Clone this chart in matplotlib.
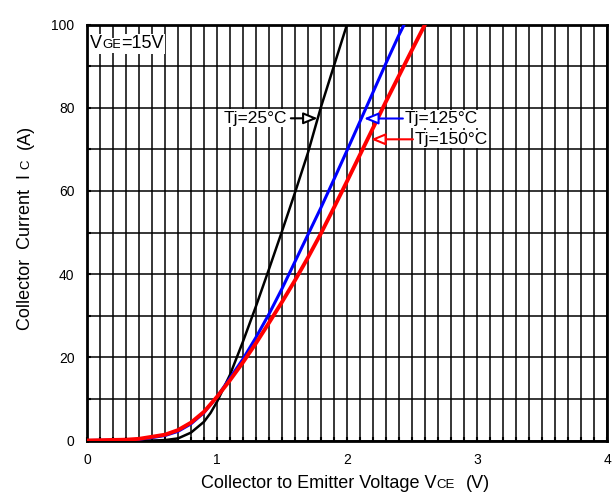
import matplotlib
matplotlib.use("Agg")
import matplotlib.pyplot as plt
from matplotlib.ticker import MultipleLocator
from matplotlib.transforms import IdentityTransform

plt.rcParams['font.family'] = ['Liberation Sans', 'DejaVu Sans']

# output characteristics (Vce in V, Ic in A)
vce_25 = [0, 0.5, 0.6, 0.7, 0.8, 0.9, 0.95, 1.0, 1.1, 1.2, 1.3, 1.4, 1.5, 1.6, 1.7, 1.8, 1.9, 2.0]
ic_25 = [0, 0, 0.1, 0.5, 1.9, 4.5, 6.6, 9.3, 15.8, 23.8, 32.3, 41.2, 50.3, 59.6, 69.2, 80.2, 90.1, 100]

vce_125 = [0, 0.3, 0.4, 0.5, 0.6, 0.7, 0.8, 0.9, 1.0, 1.1, 1.2, 1.3, 1.4, 1.5, 1.6,
           1.7, 1.8, 1.9, 2.0, 2.1, 2.2, 2.3, 2.4, 2.44]
ic_125 = [0, 0.1, 0.3, 0.7, 1.2, 2.2, 4.0, 6.7, 10.5, 15.0, 19.6, 24.8, 30.4, 36.5, 43.0,
          49.5, 56.0, 62.8, 69.7, 76.7, 83.7, 90.7, 97.5, 100]

vce_150 = [0, 0.3, 0.4, 0.5, 0.6, 0.7, 0.8, 0.9, 1.0, 1.1, 1.2, 1.3, 1.4, 1.5, 1.6,
           1.7, 1.8, 1.9, 2.0, 2.1, 2.2, 2.3, 2.4, 2.5, 2.6]
ic_150 = [0, 0.2, 0.4, 0.9, 1.4, 2.5, 4.3, 6.9, 10.5, 14.5, 18.8, 23.4, 28.3, 33.3, 38.5,
          44.0, 49.8, 56.0, 62.3, 68.7, 75.1, 81.5, 87.7, 93.9, 100]

x_ticks = [0, 1, 2, 3, 4]
y_ticks = [0, 20, 40, 60, 80, 100]


def chain_text(fig, x, y, parts, rotation=0, bbox=None):
    """Draw text pieces one after another (pixel coords), each (text, size, gap)."""
    renderer = fig.canvas.get_renderer()
    texts = []
    for s, size, gap in parts:
        if rotation == 90:
            y += gap
        else:
            x += gap
        t = fig.text(x, y, s, fontsize=size, rotation=rotation, rotation_mode='anchor',
                     ha='left', va='baseline', transform=IdentityTransform(), zorder=5)
        if bbox is not None:
            t.set_bbox(bbox)
        ext = t.get_window_extent(renderer)
        if rotation == 90:
            y += ext.height
        else:
            x += ext.width
        texts.append(t)
    return texts


fig = plt.figure(figsize=(6.14, 4.98), dpi=100)
ax = fig.add_axes([87 / 614, 57.5 / 498, 520 / 614, 416 / 498])

ax.plot(vce_25, ic_25, color='black', lw=1.8, zorder=3)
ax.plot(vce_125, ic_125, color='#0000ff', lw=2.2, zorder=3)
ax.plot(vce_150, ic_150, color='#ff0000', lw=2.8, zorder=4)

ax.set_xlim(0, 4)
ax.set_ylim(0, 100)
ax.set_xticks(x_ticks)
ax.set_yticks(y_ticks)
ax.xaxis.set_minor_locator(MultipleLocator(0.1))
ax.yaxis.set_minor_locator(MultipleLocator(10))
ax.set_axisbelow(True)
ax.grid(which='both', color='black', lw=1.1)
ax.tick_params(which='both', direction='in', length=3, width=1.5, labelsize=10, pad=9)
for sp in ax.spines.values():
    sp.set_linewidth(2)

# curve labels with arrows
ax.text(1.05, 77.45, 'Tj=25°C', fontsize=12.5, va='center', ha='left',
        bbox=dict(fc='white', ec='none', pad=1), zorder=5)
ax.annotate('', xy=(1.774, 77.45), xytext=(1.568, 77.45),
            arrowprops=dict(arrowstyle='-|>,head_length=0.85,head_width=0.35', ec='black',
                            fc='white', lw=1.5, shrinkA=0, shrinkB=0, mutation_scale=10), zorder=6)
ax.text(2.44, 77.3, 'Tj=125°C', fontsize=12.5, va='center', ha='left',
        bbox=dict(fc='white', ec='none', pad=1), zorder=5)
ax.annotate('', xy=(2.131, 77.4), xytext=(2.43, 77.4),
            arrowprops=dict(arrowstyle='-|>,head_length=0.85,head_width=0.35', ec='#0000ff',
                            fc='white', lw=1.5, shrinkA=0, shrinkB=0, mutation_scale=10), zorder=6)
ax.text(2.517, 72.4, 'Tj=150°C', fontsize=12.5, va='center', ha='left',
        bbox=dict(fc='white', ec='none', pad=1), zorder=5)
ax.annotate('', xy=(2.185, 72.4), xytext=(2.507, 72.4),
            arrowprops=dict(arrowstyle='-|>,head_length=0.85,head_width=0.35', ec='#ff0000',
                            fc='white', lw=1.5, shrinkA=0, shrinkB=0, mutation_scale=10), zorder=6)

# VGE=15V in upper left corner
white = dict(fc='white', ec='none', pad=1)
chain_text(fig, 90, 449.7, [('V', 13, 0), ('GE', 9.5, 0), ('=15V', 13, 0)], bbox=white)

# axis titles with small subscripts on the baseline
chain_text(fig, 201, 9.7, [('Collector to Emitter Voltage V', 13, 0), ('CE', 9.5, 0),
                           ('(V)', 13, 11)])
chain_text(fig, 29.5, 168, [('Collector  Current  I', 13, 0), ('C', 9.5, 5),
                            ('(A)', 13, 11)], rotation=90)

fig.savefig('out.png', dpi=100)
